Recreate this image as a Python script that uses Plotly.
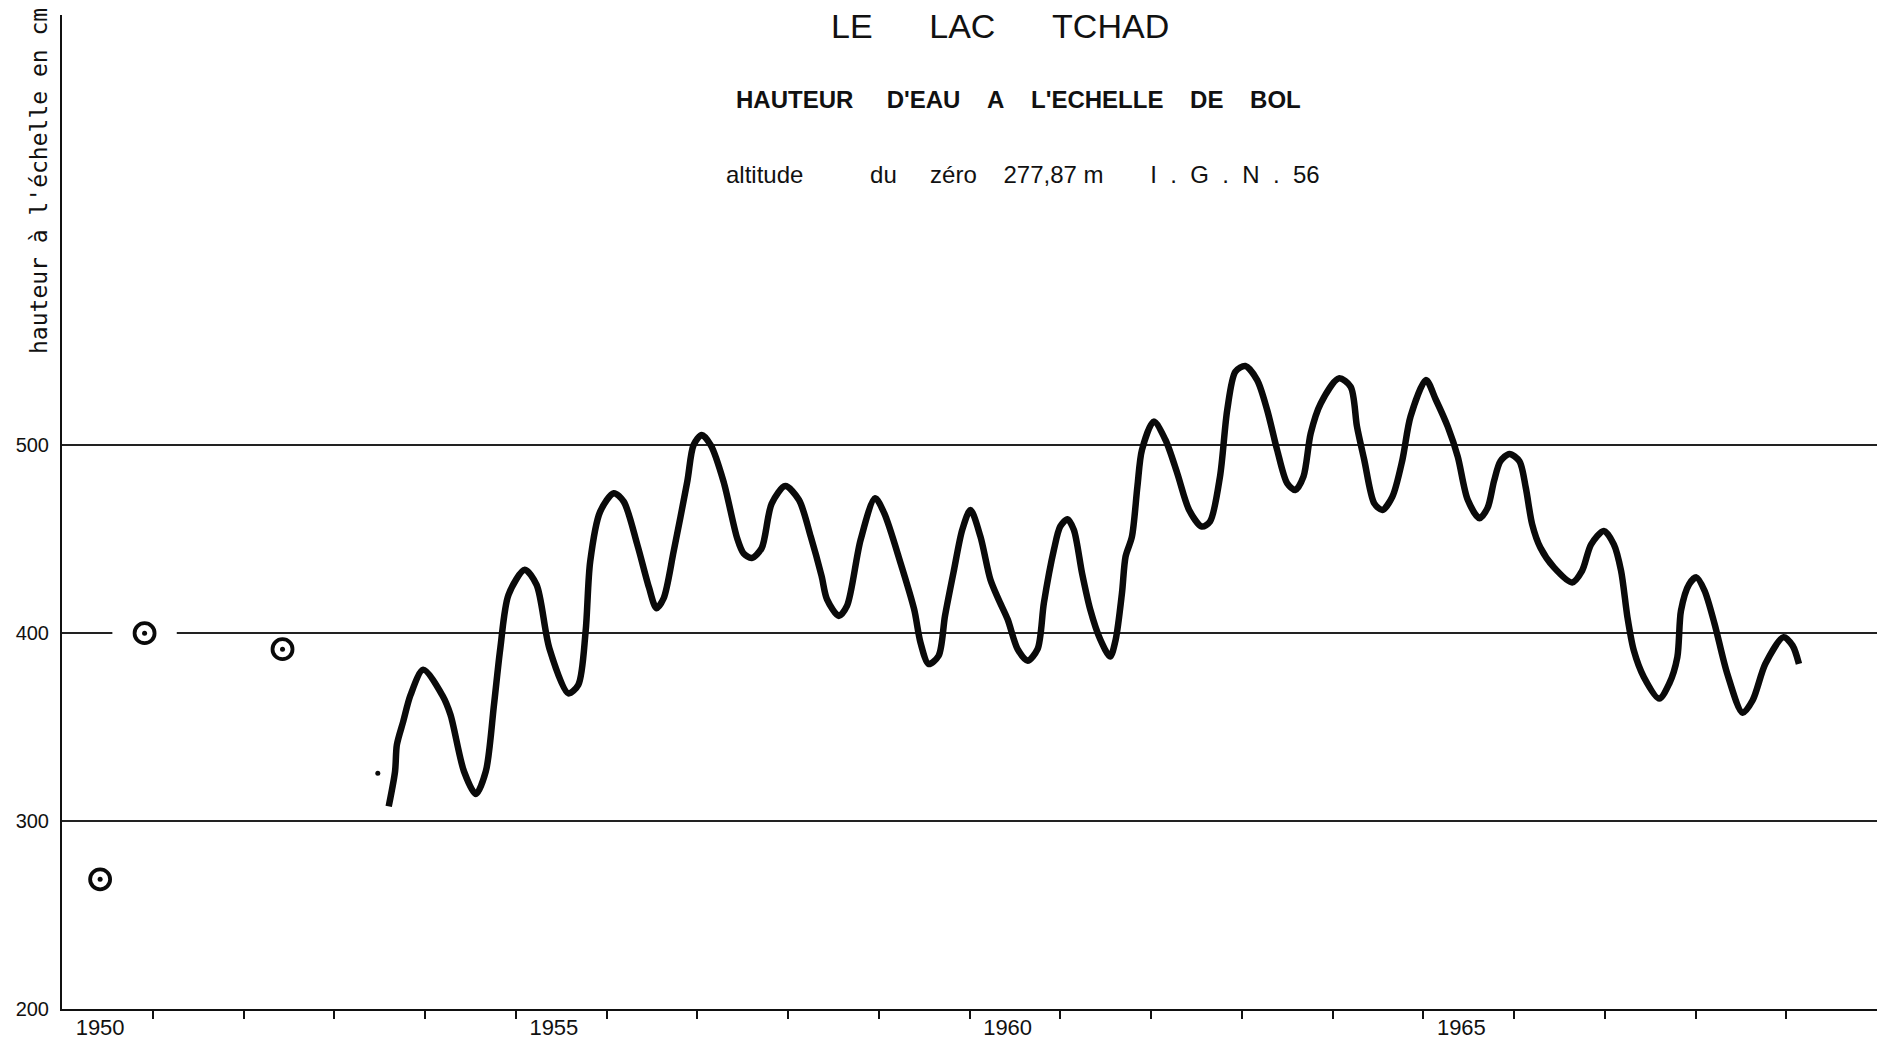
import plotly.graph_objects as go

# ---------------- data ----------------
curve_year = [1953.60, 1953.67, 1953.69, 1953.76, 1953.84, 1953.98, 1954.19, 1954.28, 1954.43, 1954.56,
              1954.67, 1954.76, 1954.83, 1954.92, 1955.10, 1955.23, 1955.37, 1955.58, 1955.69, 1955.77,
              1955.82, 1955.93, 1956.08, 1956.19, 1956.34, 1956.47, 1956.55, 1956.63, 1956.74, 1956.89,
              1956.96, 1957.05, 1957.15, 1957.29, 1957.44, 1957.51, 1957.60, 1957.71, 1957.82, 1957.97,
              1958.12, 1958.25, 1958.37, 1958.43, 1958.56, 1958.65, 1958.80, 1958.96, 1959.06, 1959.24,
              1959.39, 1959.46, 1959.55, 1959.66, 1959.73, 1959.83, 1959.92, 1960.01, 1960.12, 1960.23,
              1960.32, 1960.42, 1960.53, 1960.64, 1960.75, 1960.82, 1960.93, 1961.00, 1961.08, 1961.15,
              1961.24, 1961.33, 1961.44, 1961.55, 1961.61, 1961.68, 1961.72, 1961.79, 1961.85, 1961.90,
              1962.03, 1962.16, 1962.29, 1962.42, 1962.56, 1962.65, 1962.76, 1962.84, 1962.93, 1963.04,
              1963.17, 1963.28, 1963.39, 1963.50, 1963.59, 1963.68, 1963.76, 1963.87, 1964.07, 1964.20,
              1964.27, 1964.35, 1964.46, 1964.55, 1964.66, 1964.77, 1964.86, 1965.03, 1965.14, 1965.27,
              1965.38, 1965.49, 1965.62, 1965.71, 1965.78, 1965.85, 1965.95, 1966.06, 1966.13, 1966.20,
              1966.29, 1966.44, 1966.64, 1966.75, 1966.85, 1966.99, 1967.10, 1967.18, 1967.25, 1967.32,
              1967.43, 1967.60, 1967.71, 1967.80, 1967.84, 1967.93, 1968.01, 1968.10, 1968.21, 1968.35,
              1968.52, 1968.63, 1968.77, 1968.97, 1969.07, 1969.14]
curve_height = [307.8, 326.4, 340.6, 353.0, 367.0, 380.5, 367.0, 356.7, 326.4, 314.4,
                326.4, 361.9, 392.0, 420.4, 433.7, 425.7, 392.0, 368.0, 372.6, 401.0,
                438.0, 464.7, 474.5, 470.0, 447.0, 424.0, 413.3, 418.6, 443.5, 480.7,
                500.2, 505.5, 500.0, 480.7, 450.5, 442.5, 440.0, 445.3, 469.0, 478.3,
                471.0, 451.5, 430.4, 418.0, 409.2, 414.5, 449.7, 471.8, 463.9, 437.4,
                412.7, 395.0, 383.6, 388.0, 409.2, 433.9, 455.0, 465.6, 451.5, 428.6,
                418.0, 407.4, 391.5, 385.4, 391.5, 416.2, 444.4, 456.8, 460.7, 455.0,
                432.0, 412.7, 396.8, 387.6, 396.4, 421.3, 440.8, 451.4, 478.0, 497.5,
                512.6, 502.8, 485.0, 465.6, 456.8, 459.4, 483.3, 518.8, 539.2, 542.2,
                534.7, 518.8, 497.5, 479.8, 476.2, 483.3, 506.4, 522.3, 535.6, 531.2,
                509.9, 492.2, 469.1, 465.6, 472.7, 492.2, 515.3, 534.7, 524.1, 509.9,
                494.0, 471.0, 461.2, 466.8, 481.0, 491.5, 495.4, 491.5, 477.4, 458.0,
                445.6, 435.0, 427.0, 433.2, 447.3, 454.4, 447.3, 433.2, 408.5, 390.8,
                376.7, 365.2, 373.1, 387.3, 412.0, 426.1, 429.7, 422.6, 405.0, 378.4,
                357.6, 364.3, 383.7, 397.9, 393.4, 383.7]

# isolated observations (circled)
obs_year = [1950.42, 1950.91, 1952.43]
obs_height = [269, 400, 391.5]
# single dot
dot_year = [1953.48]
dot_height = [325.5]

label_years = [1950, 1955, 1960, 1965]
year_bounds = list(range(1951, 1970))
y_ticks = [200, 300, 400, 500]

X_RANGE = [1950, 1970]
Y_RANGE = [200, 729]

# ---------------- figure ----------------
W, H = 1890, 1041
ML, MR, MT, MB = 62, 13, 15, 32
PW, PH = W - ML - MR, H - MT - MB


def px_x(px):
    return (px - ML) / PW


def px_y(py):
    return (H - MB - py) / PH


fig = go.Figure()

# white patch interrupting the 400 grid line around the circle on it
fig.add_trace(go.Scatter(
    x=[obs_year[1]], y=[obs_height[1]], mode="markers",
    marker=dict(symbol="line-ew", size=46, line=dict(color="white", width=5)),
    hoverinfo="skip", showlegend=False))

fig.add_trace(go.Scatter(
    x=curve_year, y=curve_height, mode="lines",
    line=dict(color="#0a0a0a", width=6.5, shape="spline", smoothing=0.8),
    showlegend=False))

fig.add_trace(go.Scatter(
    x=obs_year, y=obs_height, mode="markers",
    marker=dict(symbol="circle-open", size=20, color="#0a0a0a", line=dict(width=3.8, color="#0a0a0a")),
    showlegend=False))
fig.add_trace(go.Scatter(
    x=obs_year + dot_year, y=obs_height + dot_height, mode="markers",
    marker=dict(symbol="circle", size=5, color="#0a0a0a"),
    showlegend=False))

font_main = "Liberation Sans, Arial, sans-serif"

fig.update_layout(
    width=W, height=H,
    margin=dict(l=ML, r=MR, t=MT, b=MB, pad=0, autoexpand=False),
    paper_bgcolor="white", plot_bgcolor="white",
    showlegend=False,
    xaxis=dict(
        range=X_RANGE, showgrid=False, zeroline=False, automargin=False,
        showline=True, linecolor="#111111", linewidth=2,
        tickmode="array",
        tickvals=[y + 0.42 for y in label_years],
        ticktext=[str(y) for y in label_years],
        ticks="", ticklen=0, ticklabelstandoff=-2,
        tickfont=dict(family=font_main, size=22, color="#111111"),
        minor=dict(tickmode="array", tickvals=year_bounds, ticks="outside",
                   ticklen=8, tickwidth=1.5, tickcolor="#111111", showgrid=False),
    ),
    yaxis=dict(
        range=Y_RANGE, zeroline=False, automargin=False,
        showline=True, linecolor="#111111", linewidth=2,
        tickmode="array", tickvals=y_ticks, ticktext=[str(v) for v in y_ticks],
        ticks="", showgrid=True, gridcolor="#222222", gridwidth=1.5,
        tickfont=dict(family=font_main, size=20, color="#111111"),
        ticklabelstandoff=7,
    ),
)

nb = "\u00a0"
annotations = [
    dict(text="LE" + nb * 6 + "LAC" + nb * 6 + "TCHAD", x=px_x(1000), y=px_y(26),
         font=dict(family=font_main, size=34, color="#111111")),
    dict(text="<b>HAUTEUR" + nb * 5 + "D'EAU" + nb * 4 + "A" + nb * 4 + "L'ECHELLE" + nb * 4 + "DE" + nb * 4 + "BOL</b>",
         x=px_x(1019), y=px_y(100),
         font=dict(family=font_main, size=24, color="#111111")),
    dict(text="altitude" + nb * 10 + "du" + nb * 5 + "zéro" + nb * 4 + "277,87 m" + nb * 7 + "I" + nb * 2 + "." + nb * 2 + "G" + nb * 2 + "." + nb * 2 + "N" + nb * 2 + "." + nb * 2 + "56",
         x=px_x(1023), y=px_y(174),
         font=dict(family=font_main, size=24, color="#111111")),
    dict(text="hauteur à l'échelle en cm", x=px_x(39), y=px_y(181), textangle=-90,
         font=dict(family="DejaVu Sans Mono, monospace", size=23, color="#111111")),
]
for a in annotations:
    a.update(xref="paper", yref="paper", showarrow=False, xanchor="center", yanchor="middle")
fig.update_layout(annotations=annotations)

fig.write_html("out.html", config={"displayModeBar": False},
               post_script="document.body.style.margin='0';document.body.style.overflow='hidden';")
